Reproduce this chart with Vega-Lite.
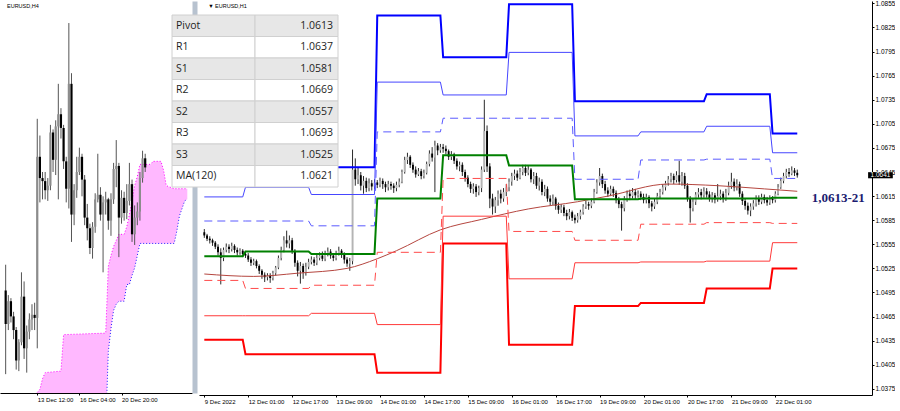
{
"$schema":"https://vega.github.io/schema/vega-lite/v6.json",
"padding":0,
"background":"#ffffff",
"bounds":"flush",
"spacing":7,
"config":{"view":{"stroke":null},"axis":{"labelFont":"Liberation Sans","labelFontSize":6,"labelColor":"#000000","domainColor":"#000000","tickColor":"#000000","grid":false,"tickSize":2,"labelPadding":1,"labelOverlap":false,"labelSeparation":0}},
"datasets":{
"h1":[
{"i":0,"o":1.0570,"h":1.0574,"l":1.0563,"c":1.0566},
{"i":1,"o":1.0566,"h":1.0568,"l":1.0559,"c":1.0562},
{"i":2,"o":1.0562,"h":1.0565,"l":1.0556,"c":1.0560},
{"i":3,"o":1.0560,"h":1.0562,"l":1.0553,"c":1.0557},
{"i":4,"o":1.0557,"h":1.0559,"l":1.0549,"c":1.0552},
{"i":5,"o":1.0552,"h":1.0555,"l":1.0541,"c":1.0545},
{"i":6,"o":1.0545,"h":1.0550,"l":1.0505,"c":1.0538},
{"i":7,"o":1.0538,"h":1.0551,"l":1.0534,"c":1.0548},
{"i":8,"o":1.0548,"h":1.0556,"l":1.0545,"c":1.0552},
{"i":9,"o":1.0552,"h":1.0555,"l":1.0544,"c":1.0549},
{"i":10,"o":1.0549,"h":1.0557,"l":1.0546,"c":1.0553},
{"i":11,"o":1.0553,"h":1.0555,"l":1.0544,"c":1.0548},
{"i":12,"o":1.0548,"h":1.0551,"l":1.0541,"c":1.0545},
{"i":13,"o":1.0545,"h":1.0550,"l":1.0542,"c":1.0547},
{"i":14,"o":1.0547,"h":1.0549,"l":1.0539,"c":1.0543},
{"i":15,"o":1.0543,"h":1.0546,"l":1.0538,"c":1.0541},
{"i":16,"o":1.0541,"h":1.0544,"l":1.0533,"c":1.0536},
{"i":17,"o":1.0536,"h":1.0539,"l":1.0528,"c":1.0532},
{"i":18,"o":1.0532,"h":1.0537,"l":1.0529,"c":1.0534},
{"i":19,"o":1.0534,"h":1.0536,"l":1.0525,"c":1.0528},
{"i":20,"o":1.0528,"h":1.0530,"l":1.0518,"c":1.0522},
{"i":21,"o":1.0522,"h":1.0524,"l":1.0512,"c":1.0517},
{"i":22,"o":1.0517,"h":1.0520,"l":1.0508,"c":1.0514},
{"i":23,"o":1.0514,"h":1.0519,"l":1.0510,"c":1.0516},
{"i":24,"o":1.0516,"h":1.0519,"l":1.0507,"c":1.0513},
{"i":25,"o":1.0513,"h":1.0522,"l":1.0510,"c":1.0519},
{"i":26,"o":1.0519,"h":1.0528,"l":1.0516,"c":1.0526},
{"i":27,"o":1.0526,"h":1.0541,"l":1.0524,"c":1.0538},
{"i":28,"o":1.0538,"h":1.0552,"l":1.0535,"c":1.0548},
{"i":29,"o":1.0548,"h":1.0565,"l":1.0545,"c":1.0560},
{"i":30,"o":1.0560,"h":1.0572,"l":1.0551,"c":1.0556},
{"i":31,"o":1.0556,"h":1.0566,"l":1.0550,"c":1.0560},
{"i":32,"o":1.0560,"h":1.0563,"l":1.0543,"c":1.0547},
{"i":33,"o":1.0547,"h":1.0549,"l":1.0527,"c":1.0532},
{"i":34,"o":1.0532,"h":1.0535,"l":1.0515,"c":1.0522},
{"i":35,"o":1.0522,"h":1.0533,"l":1.0506,"c":1.0528},
{"i":36,"o":1.0528,"h":1.0531,"l":1.0512,"c":1.0520},
{"i":37,"o":1.0520,"h":1.0532,"l":1.0516,"c":1.0527},
{"i":38,"o":1.0527,"h":1.0537,"l":1.0524,"c":1.0533},
{"i":39,"o":1.0533,"h":1.0540,"l":1.0530,"c":1.0536},
{"i":40,"o":1.0536,"h":1.0539,"l":1.0528,"c":1.0532},
{"i":41,"o":1.0532,"h":1.0542,"l":1.0529,"c":1.0538},
{"i":42,"o":1.0538,"h":1.0545,"l":1.0535,"c":1.0541},
{"i":43,"o":1.0541,"h":1.0546,"l":1.0534,"c":1.0537},
{"i":44,"o":1.0537,"h":1.0547,"l":1.0534,"c":1.0543},
{"i":45,"o":1.0543,"h":1.0551,"l":1.0540,"c":1.0546},
{"i":46,"o":1.0546,"h":1.0549,"l":1.0537,"c":1.0541},
{"i":47,"o":1.0541,"h":1.0544,"l":1.0534,"c":1.0538},
{"i":48,"o":1.0538,"h":1.0547,"l":1.0535,"c":1.0543},
{"i":49,"o":1.0543,"h":1.0552,"l":1.0541,"c":1.0547},
{"i":50,"o":1.0547,"h":1.0549,"l":1.0538,"c":1.0542},
{"i":51,"o":1.0542,"h":1.0545,"l":1.0531,"c":1.0536},
{"i":52,"o":1.0536,"h":1.0539,"l":1.0527,"c":1.0531},
{"i":53,"o":1.0531,"h":1.0538,"l":1.0522,"c":1.0534},
{"i":54,"o":1.0534,"h":1.0673,"l":1.0530,"c":1.0648},
{"i":55,"o":1.0648,"h":1.0662,"l":1.0628,"c":1.0636},
{"i":56,"o":1.0636,"h":1.0650,"l":1.0630,"c":1.0641},
{"i":57,"o":1.0641,"h":1.0645,"l":1.0622,"c":1.0628},
{"i":58,"o":1.0628,"h":1.0640,"l":1.0618,"c":1.0634},
{"i":59,"o":1.0634,"h":1.0638,"l":1.0620,"c":1.0625},
{"i":60,"o":1.0625,"h":1.0637,"l":1.0621,"c":1.0631},
{"i":61,"o":1.0631,"h":1.0635,"l":1.0622,"c":1.0627},
{"i":62,"o":1.0627,"h":1.0636,"l":1.0624,"c":1.0632},
{"i":63,"o":1.0632,"h":1.0635,"l":1.0625,"c":1.0629},
{"i":64,"o":1.0629,"h":1.0638,"l":1.0626,"c":1.0634},
{"i":65,"o":1.0634,"h":1.0637,"l":1.0624,"c":1.0630},
{"i":66,"o":1.0630,"h":1.0633,"l":1.0620,"c":1.0626},
{"i":67,"o":1.0626,"h":1.0634,"l":1.0622,"c":1.0630},
{"i":68,"o":1.0630,"h":1.0633,"l":1.0623,"c":1.0628},
{"i":69,"o":1.0628,"h":1.0631,"l":1.0619,"c":1.0625},
{"i":70,"o":1.0625,"h":1.0633,"l":1.0621,"c":1.0629},
{"i":71,"o":1.0629,"h":1.0637,"l":1.0626,"c":1.0633},
{"i":72,"o":1.0633,"h":1.0648,"l":1.0631,"c":1.0645},
{"i":73,"o":1.0645,"h":1.0664,"l":1.0643,"c":1.0660},
{"i":74,"o":1.0660,"h":1.0669,"l":1.0655,"c":1.0664},
{"i":75,"o":1.0664,"h":1.0666,"l":1.0650,"c":1.0654},
{"i":76,"o":1.0654,"h":1.0657,"l":1.0644,"c":1.0648},
{"i":77,"o":1.0648,"h":1.0652,"l":1.0638,"c":1.0642},
{"i":78,"o":1.0642,"h":1.0650,"l":1.0640,"c":1.0646},
{"i":79,"o":1.0646,"h":1.0649,"l":1.0636,"c":1.0640},
{"i":80,"o":1.0640,"h":1.0648,"l":1.0637,"c":1.0644},
{"i":81,"o":1.0644,"h":1.0658,"l":1.0642,"c":1.0655},
{"i":82,"o":1.0655,"h":1.0672,"l":1.0652,"c":1.0668},
{"i":83,"o":1.0668,"h":1.0676,"l":1.0658,"c":1.0663},
{"i":84,"o":1.0663,"h":1.0684,"l":1.0620,"c":1.0678},
{"i":85,"o":1.0678,"h":1.0681,"l":1.0666,"c":1.0672},
{"i":86,"o":1.0672,"h":1.0680,"l":1.0669,"c":1.0676},
{"i":87,"o":1.0676,"h":1.0680,"l":1.0669,"c":1.0674},
{"i":88,"o":1.0674,"h":1.0678,"l":1.0667,"c":1.0671},
{"i":89,"o":1.0671,"h":1.0673,"l":1.0660,"c":1.0664},
{"i":90,"o":1.0664,"h":1.0671,"l":1.0660,"c":1.0667},
{"i":91,"o":1.0667,"h":1.0669,"l":1.0655,"c":1.0659},
{"i":92,"o":1.0659,"h":1.0662,"l":1.0648,"c":1.0652},
{"i":93,"o":1.0652,"h":1.0658,"l":1.0646,"c":1.0654},
{"i":94,"o":1.0654,"h":1.0657,"l":1.0640,"c":1.0645},
{"i":95,"o":1.0645,"h":1.0648,"l":1.0633,"c":1.0638},
{"i":96,"o":1.0638,"h":1.0641,"l":1.0626,"c":1.0630},
{"i":97,"o":1.0630,"h":1.0633,"l":1.0619,"c":1.0624},
{"i":98,"o":1.0624,"h":1.0631,"l":1.0618,"c":1.0627},
{"i":99,"o":1.0627,"h":1.0630,"l":1.0614,"c":1.0620},
{"i":100,"o":1.0620,"h":1.0628,"l":1.0616,"c":1.0625},
{"i":101,"o":1.0625,"h":1.0652,"l":1.0620,"c":1.0648},
{"i":102,"o":1.0648,"h":1.0735,"l":1.0645,"c":1.0696},
{"i":103,"o":1.0696,"h":1.0703,"l":1.0645,"c":1.0652},
{"i":104,"o":1.0652,"h":1.0656,"l":1.0600,"c":1.0612},
{"i":105,"o":1.0612,"h":1.0618,"l":1.0592,"c":1.0602},
{"i":106,"o":1.0602,"h":1.0614,"l":1.0594,"c":1.0610},
{"i":107,"o":1.0610,"h":1.0622,"l":1.0603,"c":1.0618},
{"i":108,"o":1.0618,"h":1.0623,"l":1.0606,"c":1.0612},
{"i":109,"o":1.0612,"h":1.0625,"l":1.0608,"c":1.0620},
{"i":110,"o":1.0620,"h":1.0630,"l":1.0615,"c":1.0626},
{"i":111,"o":1.0626,"h":1.0637,"l":1.0621,"c":1.0633},
{"i":112,"o":1.0633,"h":1.0644,"l":1.0628,"c":1.0640},
{"i":113,"o":1.0640,"h":1.0648,"l":1.0635,"c":1.0643},
{"i":114,"o":1.0643,"h":1.0647,"l":1.0634,"c":1.0638},
{"i":115,"o":1.0638,"h":1.0650,"l":1.0636,"c":1.0645},
{"i":116,"o":1.0645,"h":1.0654,"l":1.0641,"c":1.0650},
{"i":117,"o":1.0650,"h":1.0654,"l":1.0640,"c":1.0644},
{"i":118,"o":1.0644,"h":1.0653,"l":1.0641,"c":1.0648},
{"i":119,"o":1.0648,"h":1.0650,"l":1.0632,"c":1.0636},
{"i":120,"o":1.0636,"h":1.0645,"l":1.0630,"c":1.0640},
{"i":121,"o":1.0640,"h":1.0644,"l":1.0624,"c":1.0628},
{"i":122,"o":1.0628,"h":1.0638,"l":1.0622,"c":1.0633},
{"i":123,"o":1.0633,"h":1.0636,"l":1.0616,"c":1.0620},
{"i":124,"o":1.0620,"h":1.0629,"l":1.0615,"c":1.0624},
{"i":125,"o":1.0624,"h":1.0627,"l":1.0608,"c":1.0612},
{"i":126,"o":1.0612,"h":1.0616,"l":1.0603,"c":1.0608},
{"i":127,"o":1.0608,"h":1.0617,"l":1.0604,"c":1.0612},
{"i":128,"o":1.0612,"h":1.0614,"l":1.0598,"c":1.0603},
{"i":129,"o":1.0603,"h":1.0607,"l":1.0593,"c":1.0598},
{"i":130,"o":1.0598,"h":1.0605,"l":1.0594,"c":1.0601},
{"i":131,"o":1.0601,"h":1.0604,"l":1.0590,"c":1.0594},
{"i":132,"o":1.0594,"h":1.0598,"l":1.0585,"c":1.0590},
{"i":133,"o":1.0590,"h":1.0599,"l":1.0586,"c":1.0595},
{"i":134,"o":1.0595,"h":1.0597,"l":1.0584,"c":1.0588},
{"i":135,"o":1.0588,"h":1.0592,"l":1.0581,"c":1.0585},
{"i":136,"o":1.0585,"h":1.0594,"l":1.0582,"c":1.0590},
{"i":137,"o":1.0590,"h":1.0598,"l":1.0586,"c":1.0595},
{"i":138,"o":1.0595,"h":1.0605,"l":1.0592,"c":1.0602},
{"i":139,"o":1.0602,"h":1.0609,"l":1.0599,"c":1.0605},
{"i":140,"o":1.0605,"h":1.0608,"l":1.0598,"c":1.0603},
{"i":141,"o":1.0603,"h":1.0612,"l":1.0600,"c":1.0608},
{"i":142,"o":1.0608,"h":1.0624,"l":1.0606,"c":1.0620},
{"i":143,"o":1.0620,"h":1.0636,"l":1.0618,"c":1.0632},
{"i":144,"o":1.0632,"h":1.0650,"l":1.0628,"c":1.0640},
{"i":145,"o":1.0640,"h":1.0643,"l":1.0625,"c":1.0630},
{"i":146,"o":1.0630,"h":1.0634,"l":1.0618,"c":1.0622},
{"i":147,"o":1.0622,"h":1.0626,"l":1.0614,"c":1.0618},
{"i":148,"o":1.0618,"h":1.0628,"l":1.0615,"c":1.0624},
{"i":149,"o":1.0624,"h":1.0627,"l":1.0614,"c":1.0619},
{"i":150,"o":1.0619,"h":1.0622,"l":1.0606,"c":1.0610},
{"i":151,"o":1.0610,"h":1.0614,"l":1.0600,"c":1.0605},
{"i":152,"o":1.0605,"h":1.0608,"l":1.0572,"c":1.0600},
{"i":153,"o":1.0600,"h":1.0615,"l":1.0596,"c":1.0612},
{"i":154,"o":1.0612,"h":1.0622,"l":1.0608,"c":1.0618},
{"i":155,"o":1.0618,"h":1.0623,"l":1.0610,"c":1.0615},
{"i":156,"o":1.0615,"h":1.0625,"l":1.0612,"c":1.0620},
{"i":157,"o":1.0620,"h":1.0624,"l":1.0611,"c":1.0616},
{"i":158,"o":1.0616,"h":1.0622,"l":1.0613,"c":1.0618},
{"i":159,"o":1.0618,"h":1.0621,"l":1.0610,"c":1.0614},
{"i":160,"o":1.0614,"h":1.0618,"l":1.0606,"c":1.0610},
{"i":161,"o":1.0610,"h":1.0618,"l":1.0606,"c":1.0614},
{"i":162,"o":1.0614,"h":1.0616,"l":1.0600,"c":1.0606},
{"i":163,"o":1.0606,"h":1.0609,"l":1.0596,"c":1.0602},
{"i":164,"o":1.0602,"h":1.0612,"l":1.0599,"c":1.0608},
{"i":165,"o":1.0608,"h":1.0619,"l":1.0605,"c":1.0615},
{"i":166,"o":1.0615,"h":1.0624,"l":1.0612,"c":1.0620},
{"i":167,"o":1.0620,"h":1.0630,"l":1.0617,"c":1.0626},
{"i":168,"o":1.0626,"h":1.0634,"l":1.0622,"c":1.0631},
{"i":169,"o":1.0631,"h":1.0640,"l":1.0628,"c":1.0636},
{"i":170,"o":1.0636,"h":1.0644,"l":1.0632,"c":1.0640},
{"i":171,"o":1.0640,"h":1.0643,"l":1.0630,"c":1.0635},
{"i":172,"o":1.0635,"h":1.0646,"l":1.0632,"c":1.0641},
{"i":173,"o":1.0641,"h":1.0659,"l":1.0629,"c":1.0633},
{"i":174,"o":1.0633,"h":1.0645,"l":1.0628,"c":1.0640},
{"i":175,"o":1.0640,"h":1.0644,"l":1.0624,"c":1.0628},
{"i":176,"o":1.0628,"h":1.0631,"l":1.0608,"c":1.0612},
{"i":177,"o":1.0612,"h":1.0615,"l":1.0582,"c":1.0600},
{"i":178,"o":1.0600,"h":1.0612,"l":1.0596,"c":1.0608},
{"i":179,"o":1.0608,"h":1.0620,"l":1.0604,"c":1.0617},
{"i":180,"o":1.0617,"h":1.0625,"l":1.0613,"c":1.0620},
{"i":181,"o":1.0620,"h":1.0624,"l":1.0611,"c":1.0616},
{"i":182,"o":1.0616,"h":1.0626,"l":1.0613,"c":1.0621},
{"i":183,"o":1.0621,"h":1.0625,"l":1.0613,"c":1.0617},
{"i":184,"o":1.0617,"h":1.0621,"l":1.0608,"c":1.0612},
{"i":185,"o":1.0612,"h":1.0620,"l":1.0607,"c":1.0616},
{"i":186,"o":1.0616,"h":1.0619,"l":1.0606,"c":1.0611},
{"i":187,"o":1.0611,"h":1.0630,"l":1.0608,"c":1.0615},
{"i":188,"o":1.0615,"h":1.0623,"l":1.0610,"c":1.0618},
{"i":189,"o":1.0618,"h":1.0621,"l":1.0607,"c":1.0612},
{"i":190,"o":1.0612,"h":1.0624,"l":1.0609,"c":1.0619},
{"i":191,"o":1.0619,"h":1.0633,"l":1.0616,"c":1.0628},
{"i":192,"o":1.0628,"h":1.0644,"l":1.0624,"c":1.0633},
{"i":193,"o":1.0633,"h":1.0637,"l":1.0621,"c":1.0626},
{"i":194,"o":1.0626,"h":1.0636,"l":1.0622,"c":1.0630},
{"i":195,"o":1.0630,"h":1.0633,"l":1.0614,"c":1.0618},
{"i":196,"o":1.0618,"h":1.0621,"l":1.0604,"c":1.0609},
{"i":197,"o":1.0609,"h":1.0612,"l":1.0598,"c":1.0603},
{"i":198,"o":1.0603,"h":1.0607,"l":1.0592,"c":1.0597},
{"i":199,"o":1.0597,"h":1.0606,"l":1.0590,"c":1.0602},
{"i":200,"o":1.0602,"h":1.0610,"l":1.0598,"c":1.0606},
{"i":201,"o":1.0606,"h":1.0616,"l":1.0602,"c":1.0612},
{"i":202,"o":1.0612,"h":1.0616,"l":1.0604,"c":1.0608},
{"i":203,"o":1.0608,"h":1.0618,"l":1.0605,"c":1.0614},
{"i":204,"o":1.0614,"h":1.0617,"l":1.0606,"c":1.0610},
{"i":205,"o":1.0610,"h":1.0614,"l":1.0603,"c":1.0607},
{"i":206,"o":1.0607,"h":1.0616,"l":1.0604,"c":1.0612},
{"i":207,"o":1.0612,"h":1.0615,"l":1.0606,"c":1.0610},
{"i":208,"o":1.0610,"h":1.0621,"l":1.0607,"c":1.0618},
{"i":209,"o":1.0618,"h":1.0630,"l":1.0616,"c":1.0626},
{"i":210,"o":1.0626,"h":1.0638,"l":1.0624,"c":1.0634},
{"i":211,"o":1.0634,"h":1.0644,"l":1.0631,"c":1.0640},
{"i":212,"o":1.0640,"h":1.0649,"l":1.0637,"c":1.0645},
{"i":213,"o":1.0645,"h":1.0650,"l":1.0639,"c":1.0643},
{"i":214,"o":1.0643,"h":1.0652,"l":1.0641,"c":1.0647},
{"i":215,"o":1.0647,"h":1.0650,"l":1.0640,"c":1.0644},
{"i":216,"o":1.0644,"h":1.0648,"l":1.0638,"c":1.0641}
],
"h4":[
{"j":4,"o":1.0560,"h":1.0577,"l":1.0505,"c":1.0538},
{"j":5,"o":1.0538,"h":1.0557,"l":1.0534,"c":1.0553},
{"j":6,"o":1.0553,"h":1.0555,"l":1.0539,"c":1.0543},
{"j":7,"o":1.0543,"h":1.0546,"l":1.0528,"c":1.0534},
{"j":8,"o":1.0534,"h":1.0536,"l":1.0508,"c":1.0514},
{"j":9,"o":1.0514,"h":1.0528,"l":1.0507,"c":1.0526},
{"j":10,"o":1.0526,"h":1.0572,"l":1.0524,"c":1.0556},
{"j":11,"o":1.0556,"h":1.0566,"l":1.0515,"c":1.0522},
{"j":12,"o":1.0522,"h":1.0537,"l":1.0506,"c":1.0533},
{"j":13,"o":1.0533,"h":1.0545,"l":1.0528,"c":1.0541},
{"j":14,"o":1.0541,"h":1.0551,"l":1.0534,"c":1.0544},
{"j":15,"o":1.0544,"h":1.0552,"l":1.0534,"c":1.0542},
{"j":16,"o":1.0542,"h":1.0673,"l":1.0522,"c":1.0648},
{"j":17,"o":1.0648,"h":1.0662,"l":1.0618,"c":1.0634},
{"j":18,"o":1.0634,"h":1.0638,"l":1.0620,"c":1.0632},
{"j":19,"o":1.0632,"h":1.0638,"l":1.0620,"c":1.0626},
{"j":20,"o":1.0626,"h":1.0634,"l":1.0619,"c":1.0629},
{"j":21,"o":1.0629,"h":1.0669,"l":1.0626,"c":1.0664},
{"j":22,"o":1.0664,"h":1.0666,"l":1.0638,"c":1.0646},
{"j":23,"o":1.0646,"h":1.0672,"l":1.0636,"c":1.0668},
{"j":24,"o":1.0668,"h":1.0696,"l":1.0620,"c":1.0676},
{"j":25,"o":1.0676,"h":1.0680,"l":1.0660,"c":1.0667},
{"j":26,"o":1.0667,"h":1.0669,"l":1.0640,"c":1.0645},
{"j":27,"o":1.0645,"h":1.0648,"l":1.0618,"c":1.0627},
{"j":28,"o":1.0627,"h":1.0736,"l":1.0614,"c":1.0696},
{"j":29,"o":1.0696,"h":1.0703,"l":1.0592,"c":1.0610},
{"j":30,"o":1.0610,"h":1.0630,"l":1.0603,"c":1.0626},
{"j":31,"o":1.0626,"h":1.0648,"l":1.0621,"c":1.0638},
{"j":32,"o":1.0638,"h":1.0654,"l":1.0636,"c":1.0648},
{"j":33,"o":1.0648,"h":1.0650,"l":1.0622,"c":1.0633},
{"j":34,"o":1.0633,"h":1.0636,"l":1.0603,"c":1.0608},
{"j":35,"o":1.0608,"h":1.0617,"l":1.0593,"c":1.0601},
{"j":36,"o":1.0601,"h":1.0604,"l":1.0584,"c":1.0588},
{"j":37,"o":1.0588,"h":1.0605,"l":1.0581,"c":1.0602},
{"j":38,"o":1.0602,"h":1.0624,"l":1.0598,"c":1.0620},
{"j":39,"o":1.0620,"h":1.0650,"l":1.0618,"c":1.0623},
{"j":40,"o":1.0623,"h":1.0628,"l":1.0606,"c":1.0610},
{"j":41,"o":1.0610,"h":1.0622,"l":1.0572,"c":1.0618},
{"j":42,"o":1.0618,"h":1.0625,"l":1.0610,"c":1.0620},
{"j":43,"o":1.0620,"h":1.0621,"l":1.0600,"c":1.0606},
{"j":44,"o":1.0606,"h":1.0624,"l":1.0596,"c":1.0620},
{"j":45,"o":1.0620,"h":1.0644,"l":1.0617,"c":1.0640},
{"j":46,"o":1.0640,"h":1.0659,"l":1.0628,"c":1.0642},
{"j":47,"o":1.0642,"h":1.0644,"l":1.0582,"c":1.0608},
{"j":48,"o":1.0608,"h":1.0626,"l":1.0604,"c":1.0621},
{"j":49,"o":1.0621,"h":1.0625,"l":1.0606,"c":1.0611},
{"j":50,"o":1.0611,"h":1.0630,"l":1.0607,"c":1.0619},
{"j":51,"o":1.0619,"h":1.0644,"l":1.0616,"c":1.0630},
{"j":52,"o":1.0630,"h":1.0633,"l":1.0592,"c":1.0597},
{"j":53,"o":1.0597,"h":1.0616,"l":1.0590,"c":1.0608},
{"j":54,"o":1.0608,"h":1.0618,"l":1.0603,"c":1.0612},
{"j":55,"o":1.0612,"h":1.0638,"l":1.0606,"c":1.0634},
{"j":56,"o":1.0634,"h":1.0652,"l":1.0631,"c":1.0647},
{"j":57,"o":1.0647,"h":1.0650,"l":1.0638,"c":1.0641}
],
"piv":[
{"k":"R3","i":0,"v":1.0658},{"k":"R3","i":14,"v":1.0658},{"k":"R3","i":15,"v":1.0664},{"k":"R3","i":38,"v":1.0664},{"k":"R3","i":39,"v":1.0651},{"k":"R3","i":62,"v":1.0651},{"k":"R3","i":63,"v":1.0840},{"k":"R3","i":86,"v":1.0840},{"k":"R3","i":87,"v":1.0788},{"k":"R3","i":110,"v":1.0788},{"k":"R3","i":111,"v":1.0854},{"k":"R3","i":134,"v":1.0854},{"k":"R3","i":135,"v":1.0733},{"k":"R3","i":158,"v":1.0733},{"k":"R3","i":159,"v":1.0733},{"k":"R3","i":182,"v":1.0733},{"k":"R3","i":183,"v":1.0742},{"k":"R3","i":206,"v":1.0742},{"k":"R3","i":207,"v":1.0693},{"k":"R3","i":216,"v":1.0693},
{"k":"R2","i":0,"v":1.0614},{"k":"R2","i":14,"v":1.0614},{"k":"R2","i":15,"v":1.0626},{"k":"R2","i":38,"v":1.0626},{"k":"R2","i":39,"v":1.0617},{"k":"R2","i":62,"v":1.0617},{"k":"R2","i":63,"v":1.0757},{"k":"R2","i":86,"v":1.0757},{"k":"R2","i":87,"v":1.0741},{"k":"R2","i":110,"v":1.0741},{"k":"R2","i":111,"v":1.0794},{"k":"R2","i":134,"v":1.0794},{"k":"R2","i":135,"v":1.0690},{"k":"R2","i":158,"v":1.0690},{"k":"R2","i":159,"v":1.0695},{"k":"R2","i":182,"v":1.0695},{"k":"R2","i":183,"v":1.0702},{"k":"R2","i":206,"v":1.0702},{"k":"R2","i":207,"v":1.0669},{"k":"R2","i":216,"v":1.0669},
{"k":"R1","i":0,"v":1.0584},{"k":"R1","i":14,"v":1.0584},{"k":"R1","i":15,"v":1.0584},{"k":"R1","i":38,"v":1.0584},{"k":"R1","i":39,"v":1.0578},{"k":"R1","i":62,"v":1.0578},{"k":"R1","i":63,"v":1.0695},{"k":"R1","i":86,"v":1.0695},{"k":"R1","i":87,"v":1.0712},{"k":"R1","i":110,"v":1.0712},{"k":"R1","i":111,"v":1.0712},{"k":"R1","i":134,"v":1.0712},{"k":"R1","i":135,"v":1.0636},{"k":"R1","i":158,"v":1.0636},{"k":"R1","i":159,"v":1.0660},{"k":"R1","i":182,"v":1.0660},{"k":"R1","i":183,"v":1.0661},{"k":"R1","i":206,"v":1.0661},{"k":"R1","i":207,"v":1.0637},{"k":"R1","i":216,"v":1.0637},
{"k":"P","i":0,"v":1.0540},{"k":"P","i":14,"v":1.0540},{"k":"P","i":15,"v":1.0546},{"k":"P","i":38,"v":1.0546},{"k":"P","i":39,"v":1.0543},{"k":"P","i":62,"v":1.0543},{"k":"P","i":63,"v":1.0612},{"k":"P","i":86,"v":1.0612},{"k":"P","i":87,"v":1.0666},{"k":"P","i":110,"v":1.0666},{"k":"P","i":111,"v":1.0653},{"k":"P","i":134,"v":1.0653},{"k":"P","i":135,"v":1.0611},{"k":"P","i":158,"v":1.0611},{"k":"P","i":159,"v":1.0612},{"k":"P","i":182,"v":1.0612},{"k":"P","i":183,"v":1.0612},{"k":"P","i":206,"v":1.0612},{"k":"P","i":207,"v":1.0613},{"k":"P","i":216,"v":1.0613},
{"k":"S1","i":0,"v":1.0510},{"k":"S1","i":14,"v":1.0510},{"k":"S1","i":15,"v":1.0500},{"k":"S1","i":38,"v":1.0500},{"k":"S1","i":39,"v":1.0504},{"k":"S1","i":62,"v":1.0504},{"k":"S1","i":63,"v":1.0545},{"k":"S1","i":86,"v":1.0545},{"k":"S1","i":87,"v":1.0637},{"k":"S1","i":110,"v":1.0637},{"k":"S1","i":111,"v":1.0571},{"k":"S1","i":134,"v":1.0571},{"k":"S1","i":135,"v":1.0560},{"k":"S1","i":158,"v":1.0560},{"k":"S1","i":159,"v":1.0580},{"k":"S1","i":182,"v":1.0580},{"k":"S1","i":183,"v":1.0582},{"k":"S1","i":206,"v":1.0582},{"k":"S1","i":207,"v":1.0581},{"k":"S1","i":216,"v":1.0581},
{"k":"S2","i":0,"v":1.0466},{"k":"S2","i":14,"v":1.0466},{"k":"S2","i":15,"v":1.0466},{"k":"S2","i":38,"v":1.0466},{"k":"S2","i":39,"v":1.0469},{"k":"S2","i":62,"v":1.0469},{"k":"S2","i":63,"v":1.0455},{"k":"S2","i":86,"v":1.0455},{"k":"S2","i":87,"v":1.0590},{"k":"S2","i":110,"v":1.0590},{"k":"S2","i":111,"v":1.0512},{"k":"S2","i":134,"v":1.0512},{"k":"S2","i":135,"v":1.0532},{"k":"S2","i":158,"v":1.0532},{"k":"S2","i":159,"v":1.0533},{"k":"S2","i":182,"v":1.0533},{"k":"S2","i":183,"v":1.0534},{"k":"S2","i":206,"v":1.0534},{"k":"S2","i":207,"v":1.0557},{"k":"S2","i":216,"v":1.0557},
{"k":"S3","i":0,"v":1.0436},{"k":"S3","i":14,"v":1.0436},{"k":"S3","i":15,"v":1.0418},{"k":"S3","i":38,"v":1.0418},{"k":"S3","i":39,"v":1.0418},{"k":"S3","i":62,"v":1.0418},{"k":"S3","i":63,"v":1.0395},{"k":"S3","i":86,"v":1.0395},{"k":"S3","i":87,"v":1.0556},{"k":"S3","i":110,"v":1.0556},{"k":"S3","i":111,"v":1.0430},{"k":"S3","i":134,"v":1.0430},{"k":"S3","i":135,"v":1.0478},{"k":"S3","i":158,"v":1.0478},{"k":"S3","i":159,"v":1.0482},{"k":"S3","i":182,"v":1.0482},{"k":"S3","i":183,"v":1.0500},{"k":"S3","i":206,"v":1.0500},{"k":"S3","i":207,"v":1.0525},{"k":"S3","i":216,"v":1.0525}
],
"ma":[
{"i":0,"m":1.0518},{"i":18,"m":1.0515},{"i":34,"m":1.0519},{"i":52,"m":1.0525},{"i":63,"m":1.0537},{"i":70,"m":1.0547},{"i":86,"m":1.0573},{"i":101,"m":1.0586},{"i":118,"m":1.0599},{"i":136,"m":1.0608},{"i":147,"m":1.0615},{"i":169,"m":1.0630},{"i":187,"m":1.0628},{"i":204,"m":1.0624},{"i":216,"m":1.0621}
],
"cloud":[
{"j":16,"a":1.0493,"b":1.0470},{"j":17,"a":1.0495,"b":1.0470},{"j":18,"a":1.0502,"b":1.0470},{"j":19,"a":1.0506,"b":1.0470},{"j":25,"a":1.0507,"b":1.0470},{"j":26,"a":1.0531,"b":1.0470},{"j":42,"a":1.0532,"b":1.0470},{"j":43,"a":1.0576,"b":1.0520},{"j":44,"a":1.0583,"b":1.0535},{"j":45,"a":1.0589,"b":1.0547},{"j":46,"a":1.0593,"b":1.0551},{"j":47,"a":1.0597,"b":1.0553},{"j":49,"a":1.0597,"b":1.0553},{"j":50,"a":1.0602,"b":1.0564},{"j":51,"a":1.0610,"b":1.0564},{"j":52,"a":1.0619,"b":1.0570},{"j":53,"a":1.0629,"b":1.0575},{"j":54,"a":1.0635,"b":1.0583},{"j":55,"a":1.0643,"b":1.0591},{"j":59,"a":1.0643,"b":1.0591},{"j":60,"a":1.0645,"b":1.0591},{"j":63,"a":1.0645,"b":1.0591},{"j":64,"a":1.0639,"b":1.0591},{"j":65,"a":1.0629,"b":1.0591},{"j":68,"a":1.0627,"b":1.0591},{"j":69,"a":1.0627,"b":1.0599},{"j":70,"a":1.0627,"b":1.0609},{"j":71,"a":1.0627,"b":1.0614},{"j":72,"a":1.0627,"b":1.0619},{"j":73,"a":1.0627,"b":1.0620}
],
"tbl":[
{"k":"Pivot","v":"1.0613"},{"k":"R1","v":"1.0637"},{"k":"S1","v":"1.0581"},{"k":"R2","v":"1.0669"},{"k":"S2","v":"1.0557"},{"k":"R3","v":"1.0693"},{"k":"S3","v":"1.0525"},{"k":"MA(120)","v":"1.0621"}
]
},
"hconcat":[
{
"width":192,"height":392,
"layer":[
{"data":{"name":"cloud"},"mark":{"type":"area","clip":true,"color":"#ff00ff","opacity":0.28},
"encoding":{
"x":{"field":"j","type":"quantitative","scale":{"domain":[3.745,72.88],"nice":false,"zero":false},"axis":{"values":[16,32,48],"tickCount":10,"labelExpr":"['13 Dec 12:00','16 Dec 04:00','20 Dec 20:00'][round(datum.value/16)-1]","labelAlign":"left","labelFlush":false,"labelOverlap":false,"title":null}},
"y":{"field":"a","type":"quantitative","scale":{"domain":[1.04926,1.07505],"nice":false,"zero":false},"axis":{"orient":"right","labels":false,"ticks":false,"domainColor":"#b7c2cf","domainWidth":5,"offset":2.5,"title":null}},
"y2":{"field":"b"}}},
{"data":{"name":"cloud"},"mark":{"type":"line","clip":true,"color":"#ff00ff","strokeWidth":1,"strokeDash":[1,2]},"encoding":{"x":{"field":"j","type":"quantitative"},"y":{"field":"a","type":"quantitative"}}},
{"data":{"name":"cloud"},"mark":{"type":"line","clip":true,"color":"#2020ff","strokeWidth":1,"strokeDash":[1,2]},"encoding":{"x":{"field":"j","type":"quantitative"},"y":{"field":"b","type":"quantitative"}}},
{"data":{"name":"h4"},"mark":{"type":"rule","clip":true,"color":"#555555","strokeWidth":1},"encoding":{"x":{"field":"j","type":"quantitative"},"y":{"field":"l","type":"quantitative"},"y2":{"field":"h"}}},
{"data":{"name":"h4"},"mark":{"type":"bar","clip":true,"width":2.2},"encoding":{"x":{"field":"j","type":"quantitative"},"y":{"field":"o","type":"quantitative"},"y2":{"field":"c"},"color":{"condition":{"test":"datum.c >= datum.o","value":"#8c8c8c"},"value":"#000000"}}},
{"data":{"values":[{"t":"EURUSD,H4"}]},"mark":{"type":"text","align":"left","baseline":"middle","font":"Liberation Sans","fontSize":5.5,"color":"#000000"},"encoding":{"x":{"datum":4.5},"y":{"datum":1.0747},"text":{"field":"t"}}}
]
},
{
"width":673,"height":394,
"layer":[
{"layer":[
{"data":{"name":"h1"},"mark":{"type":"rule","color":"#2a2a2a","strokeWidth":1},
"encoding":{
"x":{"field":"i","type":"quantitative","scale":{"domain":[-0.11,241.4],"nice":false,"zero":false},"axis":{"values":[0,16,32,48,64,80,96,112,128,144,160,176,192,208],"tickCount":30,"labelExpr":"['9 Dec 2022','12 Dec 01:00','12 Dec 17:00','13 Dec 09:00','14 Dec 01:00','14 Dec 17:00','15 Dec 09:00','16 Dec 01:00','16 Dec 17:00','19 Dec 09:00','20 Dec 01:00','20 Dec 17:00','21 Dec 09:00','22 Dec 01:00'][round(datum.value/16)]","labelAlign":"left","labelFlush":false,"labelOverlap":false,"title":null}},
"y":{"field":"l","type":"quantitative","scale":{"domain":[1.03673,1.0858],"nice":false,"zero":false},"axis":{"orient":"right","values":[1.0375,1.0405,1.0435,1.0465,1.0495,1.0525,1.0555,1.0585,1.0615,1.0645,1.0675,1.0705,1.0735,1.0765,1.0795,1.0825,1.0855],"tickCount":30,"format":".4f","labelFontSize":6.5,"labelOverlap":false,"labelFlush":false,"title":null}},
"y2":{"field":"h"}}},
{"data":{"name":"h1"},"mark":{"type":"bar","width":1.9},"encoding":{"x":{"field":"i","type":"quantitative"},"y":{"field":"o","type":"quantitative"},"y2":{"field":"c"},"color":{"condition":{"test":"datum.c >= datum.o","value":"#b4b4b4"},"value":"#000000"}}},
{"data":{"name":"ma"},"mark":{"type":"line","color":"#b5463f","strokeWidth":1,"interpolate":"monotone"},"encoding":{"x":{"field":"i","type":"quantitative"},"y":{"field":"m","type":"quantitative"}}},
{"data":{"name":"piv"},"transform":[{"filter":{"field":"k","oneOf":["R3","P","S3"]}}],"mark":{"type":"line","strokeWidth":2},"encoding":{"x":{"field":"i","type":"quantitative"},"y":{"field":"v","type":"quantitative"},"color":{"field":"k","type":"nominal","scale":{"domain":["R3","R2","R1","P","S1","S2","S3"],"range":["#0000ff","#4646ff","#5a5aff","#008000","#ff4a4a","#ff3a3a","#ff0000"]},"legend":null}}},
{"data":{"name":"piv"},"transform":[{"filter":{"field":"k","oneOf":["R2","S2"]}}],"mark":{"type":"line","strokeWidth":1},"encoding":{"x":{"field":"i","type":"quantitative"},"y":{"field":"v","type":"quantitative"},"color":{"field":"k","type":"nominal","scale":{"domain":["R3","R2","R1","P","S1","S2","S3"],"range":["#0000ff","#4646ff","#5a5aff","#008000","#ff4a4a","#ff3a3a","#ff0000"]},"legend":null}}},
{"data":{"name":"piv"},"transform":[{"filter":{"field":"k","oneOf":["R1","S1"]}}],"mark":{"type":"line","strokeWidth":1,"strokeDash":[8,5]},"encoding":{"x":{"field":"i","type":"quantitative"},"y":{"field":"v","type":"quantitative"},"color":{"field":"k","type":"nominal","scale":{"domain":["R3","R2","R1","P","S1","S2","S3"],"range":["#0000ff","#4646ff","#5a5aff","#008000","#ff4a4a","#ff3a3a","#ff0000"]},"legend":null}}},
{"data":{"values":[{"t":"▼ EURUSD,H1"}]},"mark":{"type":"text","align":"left","baseline":"middle","font":"Liberation Sans","fontSize":5.5,"color":"#000000"},"encoding":{"x":{"datum":1.4},"y":{"datum":1.0852},"text":{"field":"t"}}},
{"data":{"values":[{"t":"1,0613-21"}]},"mark":{"type":"text","align":"right","baseline":"middle","font":"Liberation Serif","fontWeight":"bold","fontSize":13,"color":"#1b1b70"},"encoding":{"x":{"datum":240.6},"y":{"datum":1.0613},"text":{"field":"t"}}},
{"data":{"values":[{"t":"1.0641"}]},"mark":{"type":"rect","color":"#000000"},"encoding":{"x":{"datum":241.8},"x2":{"datum":250.8},"y":{"datum":1.06448},"y2":{"datum":1.06372}}},
{"data":{"values":[{"t":"1.0641"}]},"mark":{"type":"text","align":"center","baseline":"middle","font":"Liberation Sans","fontSize":6.5,"color":"#ffffff"},"encoding":{"x":{"datum":246.3},"y":{"datum":1.0641},"text":{"field":"t"}}}
]},
{"data":{"name":"tbl"},"transform":[{"fold":["k","v"],"as":["col","txt"]}],
"layer":[
{"mark":{"type":"rect","stroke":"#d0d0d0","strokeWidth":1},
"encoding":{
"x":{"field":"col","type":"nominal","scale":{"type":"band","domain":["k","v"],"range":[-27,139],"paddingInner":0,"paddingOuter":0},"axis":null},
"y":{"field":"k","type":"nominal","scale":{"type":"band","domain":["Pivot","R1","S1","R2","S2","R3","S3","MA(120)"],"range":[14,186],"paddingInner":0,"paddingOuter":0},"axis":null},
"fill":{"condition":{"test":"datum.k === 'Pivot' || datum.k[0] === 'S'","value":"#e7e7e7"},"value":"#ffffff"}}},
{"transform":[{"filter":"datum.col === 'k'"}],"mark":{"type":"text","align":"left","baseline":"middle","dx":4,"font":"Open Sans","fontSize":10.5,"color":"#1e1e1e"},
"encoding":{"x":{"field":"col","type":"nominal","bandPosition":0,"scale":{"type":"band"}},"y":{"field":"k","type":"nominal","scale":{"type":"band"}},"text":{"field":"txt"}}},
{"transform":[{"filter":"datum.col === 'v'"}],"mark":{"type":"text","align":"right","baseline":"middle","dx":-5,"font":"Open Sans","fontSize":10.5,"color":"#1e1e1e"},
"encoding":{"x":{"field":"col","type":"nominal","bandPosition":1,"scale":{"type":"band"}},"y":{"field":"k","type":"nominal","scale":{"type":"band"}},"text":{"field":"txt"}}}
]}
],
"resolve":{"scale":{"x":"independent","y":"independent"}}
}
]
}
